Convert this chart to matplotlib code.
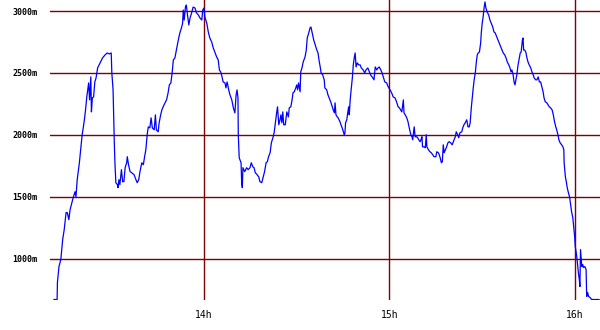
import matplotlib
matplotlib.use("Agg")
import matplotlib.pyplot as plt

# minutes after 13:00
minutes = [
    11.5, 12.5, 12.6, 13.1, 13.7, 14.3, 14.8, 15.4, 15.8, 16.3, 16.7, 17.3, 17.7, 18.3, 18.6, 19.0,
    19.7, 20.2, 20.6, 21.0, 21.4, 21.7, 22.1, 22.7, 23.0, 23.4, 23.6, 23.9, 24.3, 24.7, 25.1, 25.6,
    26.1, 26.6, 27.2, 28.0, 28.7, 29.4, 30.0, 30.2, 30.6, 30.8, 31.0, 31.2, 31.5, 32.0, 32.2, 32.5,
    32.8, 33.3, 33.7, 34.1, 34.5, 35.0, 35.2, 35.6, 36.1, 36.6, 37.4, 38.0, 38.4, 38.9, 39.3, 39.9,
    40.4, 40.8, 41.2, 41.7, 42.0, 42.5, 42.9, 43.3, 43.9, 44.3, 44.6, 45.2, 45.5, 46.0, 46.4, 46.8,
    47.4, 47.9, 48.4, 48.8, 49.3, 49.7, 50.1, 50.6, 51.2, 51.7, 52.2, 52.8, 53.1, 53.3, 53.6, 54.0,
    54.3, 54.6, 55.1, 55.5, 56.0, 56.5, 57.1, 57.6, 58.2, 58.7, 59.3, 59.6, 60.0, 60.3, 60.9, 61.4,
    61.9, 62.5, 63.0, 63.6, 64.1, 64.6, 65.0, 65.4, 65.7, 66.2, 66.8, 67.1, 67.5, 68.0, 68.4, 69.0,
    69.5, 70.0, 70.4, 70.7, 71.0, 71.1, 71.4, 72.0, 72.2, 72.4, 72.6, 73.2, 73.8, 74.3, 74.9, 75.3,
    75.8, 76.2, 76.6, 77.2, 77.7, 78.1, 78.7, 79.2, 79.6, 80.1, 80.5, 80.9, 81.4, 81.8, 82.3, 82.7,
    83.1, 83.5, 83.8, 84.2, 84.6, 84.9, 85.2, 85.5, 85.8, 86.3, 86.8, 87.3, 87.6, 88.1, 88.5, 88.8,
    89.2, 89.7, 90.0, 90.3, 90.6, 91.1, 91.3, 91.7, 92.1, 92.7, 93.1, 93.4, 93.9, 94.3, 94.6, 95.0,
    95.5, 96.0, 96.5, 96.9, 97.2, 97.6, 97.9, 98.4, 98.9, 99.1, 99.7, 100.1, 100.5, 101.0, 101.5, 101.8,
    102.2, 102.4, 102.7, 103.1, 103.4, 104.0, 104.3, 104.7, 105.1, 105.4, 105.6, 105.8, 106.2, 106.5, 106.8, 107.0,
    107.3, 107.6, 108.0, 108.3, 108.6, 108.9, 109.2, 109.6, 110.0, 110.5, 110.9, 111.5, 112.0, 112.4, 113.0, 113.5,
    113.9, 114.6, 115.0, 115.4, 115.9, 116.3, 116.7, 117.2, 117.6, 118.0, 118.5, 119.1, 119.6, 120.2, 120.7, 121.2,
    121.8, 122.3, 122.8, 123.2, 123.6, 124.0, 124.5, 124.7, 125.1, 125.6, 126.0, 126.4, 126.9, 127.3, 127.5, 127.7,
    128.0, 128.3, 128.8, 129.1, 129.5, 129.9, 130.2, 130.5, 130.7, 131.2, 131.6, 131.9, 132.1, 132.6, 133.1, 133.5,
    134.0, 134.4, 135.0, 135.3, 135.8, 136.1, 136.4, 136.8, 137.1, 137.4, 137.7, 138.1, 138.5, 138.9, 139.3, 139.8,
    140.3, 140.9, 141.3, 141.6, 142.1, 142.4, 142.8, 143.4, 143.7, 144.1, 144.5, 145.0, 145.4, 145.8, 146.1, 146.5,
    146.8, 147.1, 147.4, 147.8, 148.1, 148.4, 148.7, 149.1, 149.5, 149.7, 150.0, 150.3, 150.6, 150.9, 151.2, 151.6,
    152.1, 152.5, 152.9, 153.4, 153.8, 154.2, 154.7, 155.1, 155.5, 156.0, 156.4, 156.8, 157.3, 157.7, 158.1, 158.6,
    159.0, 159.3, 159.6, 160.0, 160.3, 160.6, 160.9, 161.2, 161.6, 162.0, 162.3, 162.6, 163.0, 163.2, 163.4, 163.7,
    164.1, 164.4, 164.8, 165.2, 165.7, 166.1, 166.5, 166.8, 167.3, 167.7, 168.1, 168.5, 168.9, 169.3, 169.7, 170.0,
    170.4, 170.9, 171.3, 171.7, 172.1, 172.6, 173.0, 173.4, 173.8, 174.1, 174.5, 174.8, 175.2, 175.7, 176.1, 176.4,
    176.5, 176.9, 177.2, 177.5, 177.8, 178.3, 178.6, 178.9, 179.3, 179.6, 179.9, 180.1, 180.4, 180.7, 181.1, 181.4,
    181.6, 181.8, 182.2, 182.5, 182.8, 183.2, 183.6, 183.8, 184.1, 184.4, 184.9, 185.4, 187.8,
]

# altitude in metres
altitude = [
    669, 669, 806, 935, 992, 1153, 1234, 1371, 1371, 1314, 1395, 1452, 1492, 1540, 1500, 1637,
    1774, 1903, 2000, 2064, 2137, 2202, 2306, 2419, 2282, 2468, 2185, 2298, 2306, 2427, 2460, 2540,
    2565, 2589, 2621, 2645, 2661, 2653, 2661, 2500, 2363, 2145, 1935, 1774, 1613, 1597, 1573, 1637,
    1597, 1718, 1621, 1621, 1734, 1774, 1823, 1758, 1702, 1694, 1677, 1637, 1613, 1637, 1702, 1774,
    1758, 1823, 1879, 2016, 2064, 2056, 2137, 2056, 2040, 2161, 2040, 2024, 2097, 2161, 2202, 2226,
    2258, 2282, 2339, 2403, 2419, 2500, 2605, 2621, 2702, 2766, 2823, 2871, 2903, 3008, 2927, 3032,
    3048, 2984, 2887, 2944, 2984, 3032, 3024, 2984, 2968, 2944, 2927, 3008, 3024, 2952, 2903, 2831,
    2782, 2750, 2702, 2661, 2629, 2605, 2524, 2508, 2484, 2427, 2419, 2379, 2427, 2363, 2323, 2282,
    2218, 2177, 2323, 2363, 2298, 2000, 1814, 1774, 1613, 1573, 1734, 1702, 1734, 1718, 1734, 1774,
    1742, 1734, 1694, 1677, 1661, 1621, 1613, 1661, 1702, 1774, 1782, 1823, 1855, 1935, 1976, 2016,
    2097, 2177, 2226, 2081, 2121, 2161, 2097, 2185, 2081, 2081, 2185, 2145, 2218, 2226, 2282, 2339,
    2347, 2379, 2403, 2363, 2419, 2347, 2508, 2540, 2589, 2629, 2685, 2782, 2823, 2863, 2871, 2823,
    2766, 2726, 2685, 2661, 2605, 2548, 2500, 2484, 2444, 2379, 2363, 2323, 2298, 2266, 2226, 2202,
    2177, 2258, 2161, 2145, 2137, 2105, 2081, 2056, 2024, 2000, 2016, 2097, 2121, 2177, 2226, 2161,
    2282, 2363, 2460, 2565, 2621, 2661, 2548, 2581, 2565, 2565, 2540, 2524, 2500, 2524, 2540, 2508,
    2484, 2460, 2444, 2548, 2524, 2540, 2548, 2524, 2500, 2468, 2427, 2419, 2387, 2363, 2339, 2306,
    2298, 2266, 2226, 2218, 2202, 2185, 2282, 2177, 2161, 2137, 2105, 2056, 2000, 1984, 1960, 2000,
    2064, 1984, 1984, 1976, 1960, 1944, 1960, 1984, 1903, 1903, 1895, 2000, 1903, 1879, 1863, 1855,
    1839, 1823, 1823, 1863, 1855, 1839, 1814, 1774, 1782, 1919, 1855, 1879, 1903, 1935, 1944, 1935,
    1919, 1960, 1984, 2024, 2000, 1976, 2016, 2024, 2056, 2081, 2097, 2121, 2064, 2064, 2097, 2226,
    2306, 2379, 2444, 2508, 2589, 2645, 2661, 2669, 2742, 2823, 2903, 2952, 3024, 3073, 3024, 2992,
    2968, 2927, 2903, 2871, 2831, 2823, 2790, 2766, 2742, 2710, 2685, 2661, 2645, 2621, 2589, 2565,
    2540, 2508, 2524, 2484, 2427, 2403, 2444, 2484, 2565, 2621, 2661, 2669, 2766, 2782, 2685, 2685,
    2669, 2629, 2589, 2565, 2540, 2508, 2484, 2460, 2444, 2444, 2468, 2427, 2427, 2387, 2347, 2298,
    2266, 2258, 2242, 2226, 2218, 2202, 2161, 2105, 2064, 2040, 2000, 1960, 1935, 1919, 1903, 1879,
    1774, 1661, 1621, 1573, 1540, 1492, 1435, 1379, 1331, 1258, 1177, 1097, 1048, 992, 887, 831,
    774, 1073, 935, 952, 927, 935, 911, 694, 726, 694, 685, 669, 669,
]

hour_ticks = [60, 120, 180]
hour_labels = ["14h", "15h", "16h"]
alt_ticks = [1000, 1500, 2000, 2500, 3000]
alt_labels = ["1000m", "1500m", "2000m", "2500m", "3000m"]

grid_color = "#800000"

fig = plt.figure(figsize=(6.0, 3.3), dpi=100)
ax = fig.add_axes([50 / 600, 30 / 330, 550 / 600, 300 / 330])

for a in alt_ticks:
    ax.axhline(a, color=grid_color, linewidth=1.0, zorder=1)
for t in hour_ticks:
    ax.axvline(t, color=grid_color, linewidth=1.0, zorder=1)

ax.plot(minutes, altitude, color="#0000ff", linewidth=0.9, zorder=3)

ax.set_xlim(10.2, 188.1)
ax.set_ylim(665, 3089)

ax.set_xticks(hour_ticks)
ax.set_xticklabels(hour_labels, fontsize=7, family="DejaVu Sans Mono")
ax.set_yticks(alt_ticks)
ax.set_yticklabels(alt_labels, fontsize=6, family="DejaVu Sans Mono", fontweight="bold")
ax.tick_params(axis="x", length=0, pad=7)
ax.tick_params(axis="y", length=0, pad=9)

for s in ax.spines.values():
    s.set_visible(False)

fig.savefig("out.png", dpi=100)
